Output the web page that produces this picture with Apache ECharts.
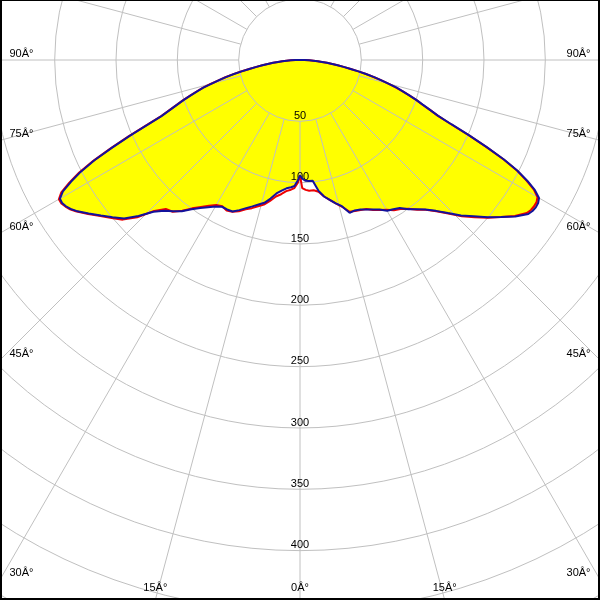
<!DOCTYPE html>
<html>
<head>
<meta charset="utf-8">
<script src="https://cdn.jsdelivr.net/npm/echarts@6/dist/echarts.min.js"></script>
<style>
html,body{margin:0;padding:0;background:#ffffff;}
#chart{width:600px;height:600px;}
</style>
</head>
<body>
<div id="chart"></div>
<script>
// ---- data ----
const angleTicks = [0, 15, 30, 45, 60, 75, 90];
const radiusTicks = [50, 100, 150, 200, 250, 300, 350, 400];
const degreeSuffix = 'Â°';

// gamma angles (degrees from nadir)
const gamma = [0,1,2.5,4,6,8,10,12,14,16,
  18,20,22,24,26,28,30,32,34,36,
  38,40,42,44,46,48,50,52,54,56,
  57,58,59,60,61,62,63,64,65,66,
  67,68,69,70,71,72,73,74,75,76,
  77,78,79,80,81,82,83,84,85,86,
  87,88,89,90];

// blue curve, right half (C0) and left half (C180)
const blueRight = [94.5,96.5,98.5,98.8,99,107.5,113,116.5,120.5,124,
  131,130.5,131.5,133.5,135.5,138,142,143.5,145.5,150.5,
  154.5,159,165.5,173.5,182.5,190.5,199.5,208,217,224.5,
  226,226.7,226.5,225,219,210,199,185,168,151,
  134,121.5,113.5,106.5,100.5,94,88,82,75,68,
  62,55,48.5,42,36,31,26.5,22,18,14.5,
  11,7.5,3.7,0];
const blueLeft = [94,98,102.8,104,105.2,107.5,110.5,115.5,120,122.5,
  125.5,128.5,132,135.2,135.6,135.5,138,141.5,145.5,150.5,
  156.5,161,165.5,172,183,193,199.5,206,213,220,
  223,225,226.3,226,221,211.5,200.5,186.5,169,152,
  134.5,121.5,113.5,106.5,100.5,94,88,82,75,68,
  62,55,48.5,42,36,31,26.5,22,18,14.5,
  11,7.5,3.7,0];

// red curve, right half (C90) and left half (C270)
const redRight = [94.5,104.5,106,106.8,106.8,108.5,113,116.5,120.5,124.5,
  130,131,132,133,136,138.5,141,144.5,146.5,150,
  155,159.5,166,174,183.5,191.5,200,208,216.5,223,
  224.5,225,225,223.5,218,209,198.5,184.5,167.5,150.5,
  133.5,121,113.5,106,100.5,94,88,81.5,75,68,
  61.5,55,48.5,42,36,31,26.5,22,18,14.5,
  11,7.5,3.7,0];
const redLeft = [94,100,104.5,106,107.5,110.5,113,117.5,121.5,124,
  127,129.5,133,135.5,136.5,135,136.5,140,144.5,149.5,
  156,161.5,163.5,171,184.5,194.5,200.5,206.5,213.5,220.5,
  223.5,225.5,227,227,222.5,213,202,187.5,170,153,
  135.5,122,114,107,101,94.5,88.5,82.5,75.5,68.5,
  62.5,55.5,49,42,36,31,26.5,22,18,14.5,
  11,7.5,3.7,0];

// ---- layout ----
const W = 600, H = 600;
const CX = 300, CY = 60;
const PX_PER_UNIT = 1.2266;
const R_MAX = 500;
const GRID = '#c0c0c0';
const FONT = '"Liberation Sans", Arial, sans-serif';

function buildCurve(left, right) {
  const pts = [];
  for (let i = gamma.length - 1; i >= 0; i--) pts.push([left[i], 360 - gamma[i]]);
  for (let i = 0; i < gamma.length; i++) pts.push([right[i], gamma[i]]);
  return pts;
}
const blueData = buildCurve(blueLeft, blueRight);
const redData = buildCurve(redLeft, redRight);

// angle labels placed where each ray meets the picture edge
function angleLabels() {
  const out = [];
  angleTicks.forEach(function (g) {
    [-1, 1].forEach(function (s) {
      if (g === 0 && s === 1) return;
      const a = g * Math.PI / 180;
      const sn = Math.sin(a), cs = Math.cos(a);
      const rSide = sn > 1e-6 ? (s < 0 ? CX : W - CX) / sn : Infinity;
      const rBottom = cs > 1e-6 ? (H - CY) / cs : Infinity;
      let x, y, align;
      if (rSide <= rBottom) {
        y = CY + rSide * cs - 6.5;
        x = s < 0 ? 9.5 : W - 9.5;
        align = s < 0 ? 'left' : 'right';
      } else {
        x = CX + s * rBottom * sn;
        y = H - 12;
        align = 'center';
      }
      out.push({
        type: 'text', z: 50, x: x, y: y,
        style: { text: g + degreeSuffix, fill: '#000', font: '11px ' + FONT,
                 textAlign: align, textVerticalAlign: 'middle' }
      });
    });
  });
  return out;
}

const chart = echarts.init(document.getElementById('chart'), null, { renderer: 'canvas' });
const R_PX = R_MAX * PX_PER_UNIT;
const R_IN = radiusTicks[0] * PX_PER_UNIT;

chart.setOption({
  animation: false,
  backgroundColor: '#ffffff',
  polar: [
    { center: [CX, CY], radius: [0, R_PX] },
    { center: [CX, CY], radius: [R_IN, R_PX] }
  ],
  angleAxis: [
    { polarIndex: 0, type: 'value', min: 0, max: 360, startAngle: 270, clockwise: false,
      show: true, z: 3, axisLine: { show: false }, axisTick: { show: false },
      axisLabel: { show: false }, splitLine: { show: false } },
    { polarIndex: 1, type: 'value', min: 0, max: 360, interval: 15, startAngle: 270, clockwise: false,
      z: 3, axisLine: { show: false }, axisTick: { show: false },
      axisLabel: { show: false },
      splitLine: { show: true, lineStyle: { color: GRID, width: 1 } } }
  ],
  radiusAxis: [
    { polarIndex: 0, type: 'value', min: 0, max: R_MAX, interval: 50, z: 3,
      axisLine: { show: false }, axisTick: { show: false },
      splitLine: { show: true, lineStyle: { color: GRID, width: 1 } },
      axisLabel: { show: true, margin: 0, align: 'center', verticalAlign: 'bottom',
        color: '#000', fontSize: 11, fontFamily: FONT,
        formatter: function (v) { return radiusTicks.indexOf(v) >= 0 ? String(v) : ''; } } },
    { polarIndex: 1, type: 'value', min: 0, max: R_MAX, show: false,
      splitLine: { show: false } }
  ],
  series: [
    { type: 'line', coordinateSystem: 'polar', polarIndex: 0, data: blueData, z: 1,
      showSymbol: false, symbol: 'none', silent: true,
      lineStyle: { width: 0, opacity: 0 },
      areaStyle: { color: '#ffff00', opacity: 1 } },
    { type: 'line', coordinateSystem: 'polar', polarIndex: 0, data: redData, z: 5,
      showSymbol: false, symbol: 'none', silent: true,
      lineStyle: { width: 2, color: '#ee0000' } },
    { type: 'line', coordinateSystem: 'polar', polarIndex: 0, data: blueData, z: 6,
      showSymbol: false, symbol: 'none', silent: true,
      lineStyle: { width: 2, color: '#12129c' } }
  ],
  graphic: angleLabels().concat([
    { type: 'rect', z: 100, shape: { x: 0, y: 0, width: W, height: 1 }, style: { fill: '#000' } },
    { type: 'rect', z: 100, shape: { x: 0, y: 0, width: 2, height: H }, style: { fill: '#000' } },
    { type: 'rect', z: 100, shape: { x: W - 2, y: 0, width: 2, height: H }, style: { fill: '#000' } },
    { type: 'rect', z: 100, shape: { x: 0, y: H - 2, width: W, height: 2 }, style: { fill: '#000' } }
  ])
});
</script>
</body>
</html>
